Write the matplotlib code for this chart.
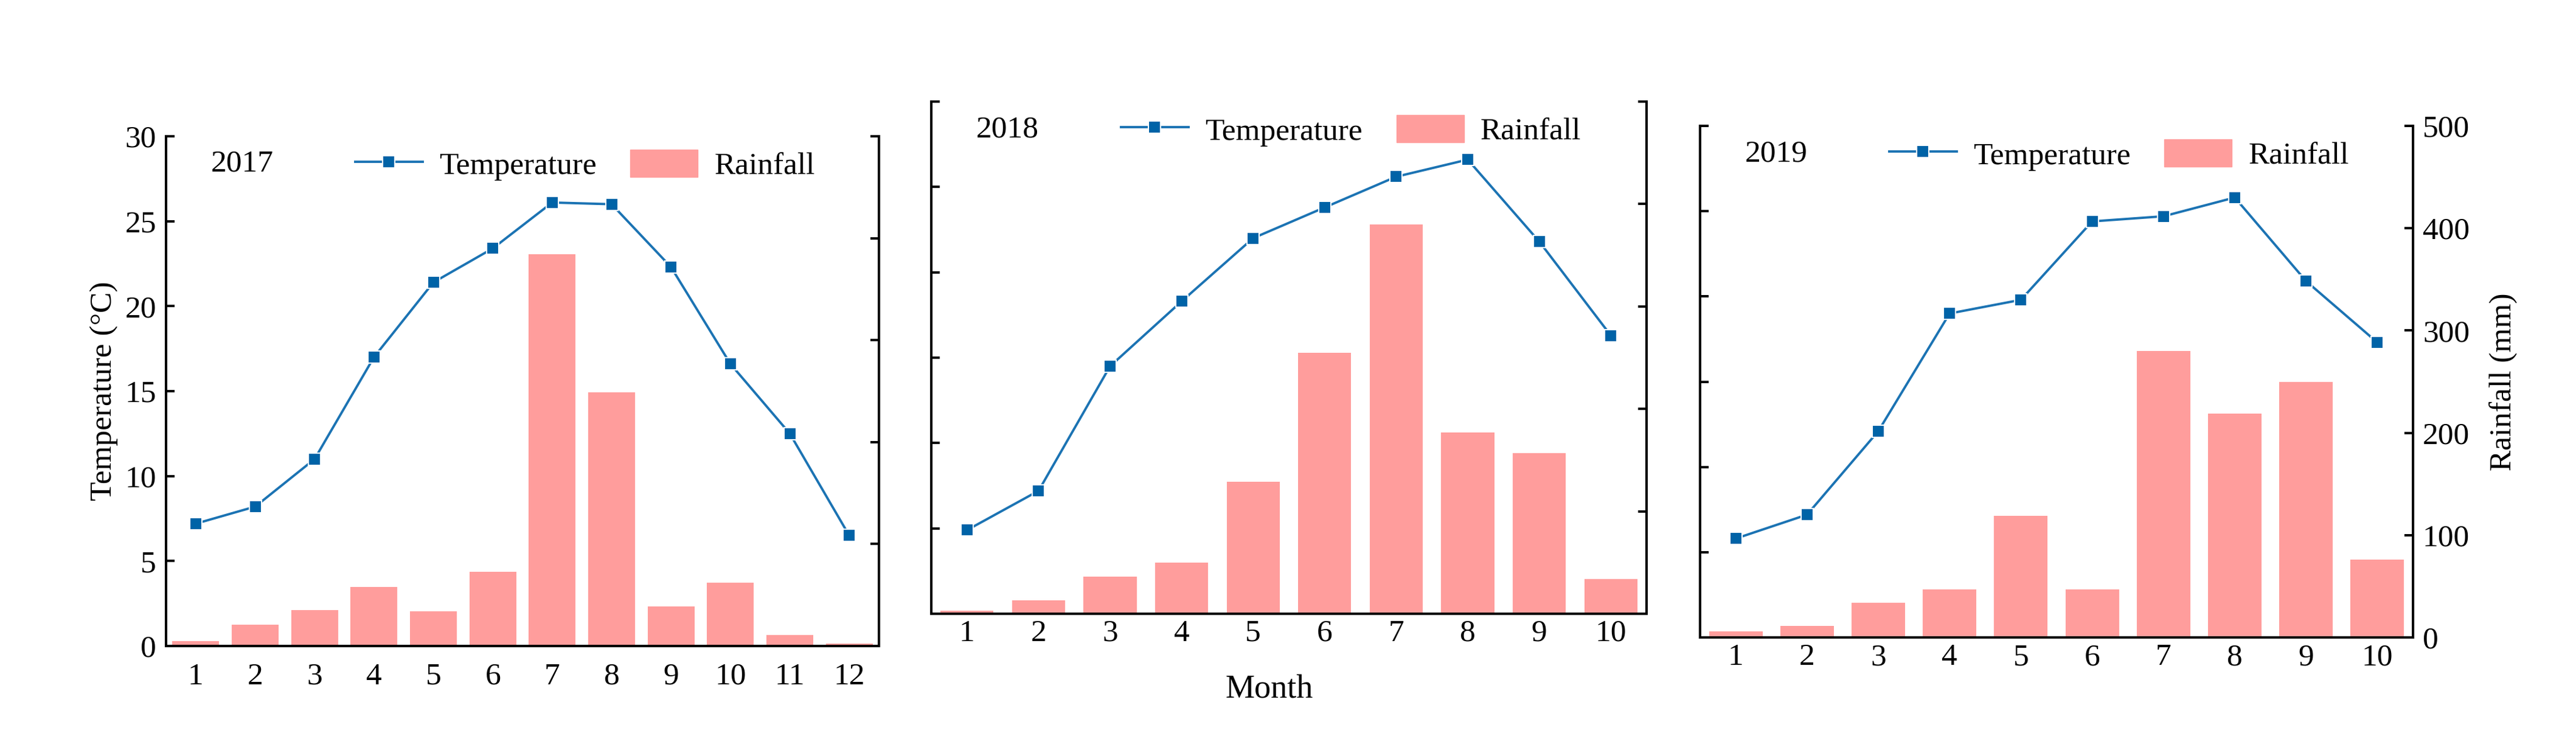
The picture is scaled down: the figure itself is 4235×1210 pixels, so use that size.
import matplotlib
matplotlib.use("Agg")
import matplotlib.pyplot as plt
from matplotlib.lines import Line2D
from matplotlib.patches import Patch

plt.rcParams['font.family'] = ['Liberation Serif', 'DejaVu Serif']

years = ["2017", "2018", "2019"]
months17 = [1, 2, 3, 4, 5, 6, 7, 8, 9, 10, 11, 12]
temp17 = [7.2, 8.2, 11.0, 17.0, 21.4, 23.4, 26.1, 26.0, 22.3, 16.6, 12.5, 6.5]
rain17 = [5, 21, 35, 58, 34, 73, 384, 249, 39, 62, 11, 2.5]
months18 = [1, 2, 3, 4, 5, 6, 7, 8, 9, 10]
temp18 = [4.9, 7.2, 14.5, 18.3, 22.0, 23.8, 25.6, 26.6, 21.8, 16.3]
rain18 = [3, 13, 36, 50, 129, 255, 380, 177, 157, 34]
months19 = [1, 2, 3, 4, 5, 6, 7, 8, 9, 10]
temp19 = [5.8, 7.2, 12.1, 19.0, 19.8, 24.4, 24.7, 25.8, 20.9, 17.3]
rain19 = [6, 11, 34, 47, 119, 47, 280, 219, 250, 76]

temp_ticks = [0, 5, 10, 15, 20, 25, 30]
rain_ticks = [0, 100, 200, 300, 400, 500]

BAR = '#FF9D9C'
LINE = '#1B73B3'
MARK = '#0063A7'
FS = 37
LW = 2.8

W, H = 4235, 1210
fig = plt.figure(figsize=(W / 100, H / 100), dpi=100)

# axes rectangles in pixels: left, right, top, bottom
rects = [(273, 1445, 224, 1062), (1531, 2707, 167, 1009), (2795, 3967, 207, 1048)]
xpads = [19.5, 6.5, 7.0]
barw = [0.79, 0.74, 0.75]
data = [(months17, temp17, rain17), (months18, temp18, rain18), (months19, temp19, rain19)]

for i, ((l, r, t, b), (m, tp, rn)) in enumerate(zip(rects, data)):
    ax = fig.add_axes([l / W, 1 - b / H, (r - l) / W, (b - t) / H])
    ax2 = ax.twinx()
    ax2.bar(m, rn, width=barw[i], color=BAR, zorder=1)
    ax.plot(m, tp, color=LINE, lw=2.8, marker='s', ms=14, mfc=MARK, mec='white', mew=1.5, zorder=3)
    ax.set_zorder(ax2.get_zorder() + 1)
    ax.patch.set_visible(False)

    ax.set_xlim(0.5, len(m) + 0.5)
    ax.set_ylim(0, 30)
    ax2.set_ylim(0, 500)
    ax.set_xticks(m)
    ax.set_yticks(temp_ticks)
    ax2.set_yticks(rain_ticks)

    for a in (ax, ax2):
        a.spines['top'].set_visible(False)
        for s in ('left', 'right', 'bottom'):
            a.spines[s].set_linewidth(LW)
    ax.tick_params(axis='x', length=0, labelsize=FS, pad=xpads[i])
    ax.tick_params(axis='y', direction='in', length=10, width=LW, labelsize=FS, pad=11.5,
                   labelleft=(i == 0))
    ax2.tick_params(axis='y', direction='in', length=10, width=LW, labelsize=FS, pad=11.5,
                    labelright=(i == 2))

    ax.text(0.063, 0.931, years[i], transform=ax.transAxes, fontsize=FS, ha='left', va='baseline')
    handles = [Line2D([], [], color=LINE, lw=2.8, marker='s', ms=14, mfc=MARK, mec='white', mew=1.5),
               Patch(color=BAR)]
    ax.legend(handles, ['Temperature', 'Rainfall'], ncol=2, loc='center left',
              bbox_to_anchor=(0.265, 0.943), frameon=False, fontsize=FS,
              borderpad=0, borderaxespad=0, handlelength=2.16, handleheight=0.97,
              handletextpad=0.53, columnspacing=1.09)

fig.text(171 / W, 1 - 643 / H, 'Temperature (°C)', rotation=90, ha='center', va='center', fontsize=FS)
fig.text(4116 / W, 1 - 628 / H, 'Rainfall (mm)', rotation=90, ha='center', va='center', fontsize=FS)
fig.text(2087 / W, 1 - 1147 / H, 'Month', ha='center', va='baseline', fontsize=FS + 2)

fig.savefig('out.png', dpi=100, facecolor='white')
